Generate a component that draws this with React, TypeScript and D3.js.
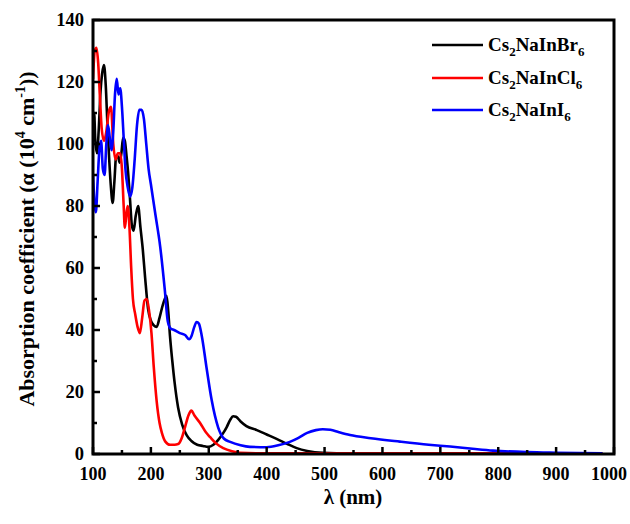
import React from "react";
import * as d3 from "d3";

// Wavelength (nm) / absorption coefficient (10^4 cm^-1) pairs per compound
const brWavelength = [100, 102, 104, 107, 110, 113, 116, 119, 122, 125, 128, 131, 134, 137, 140, 143, 146, 149, 152, 155, 158, 161, 164, 167, 170, 174, 178, 182, 186, 190, 195, 200, 205, 210, 215, 219, 224, 227, 230, 233, 237, 241, 247, 254, 262, 270, 280, 290, 299, 308, 316, 324, 331, 337, 342, 347, 355, 365, 383, 400, 418, 435, 452, 470, 497, 550, 700, 980];
const brAlpha = [102, 110, 101, 97, 105, 117, 123, 125.5, 119, 106, 95, 86, 81, 88, 96, 96, 94, 97, 102, 101, 96, 90, 82, 74, 72, 77, 80, 73, 66, 57, 47, 43, 41.5, 41, 44, 47, 50, 51, 46, 38, 30, 23, 15, 9.5, 6, 4.2, 3, 2.6, 2.3, 3, 4.5, 6.5, 8.7, 11, 12.2, 12, 10.5, 9, 7.7, 6.3, 4.8, 3.3, 1.9, 1, 0.4, 0.2, 0.1, 0.1];

const clWavelength = [100, 103, 106, 109, 112, 115, 119, 123, 127, 131, 135, 139, 143, 147, 150, 153, 155, 158, 160, 163, 166, 169, 173, 177, 181, 185, 189, 193, 197, 201, 205, 210, 215, 219, 225, 233, 241, 247, 253, 259, 265, 270, 275, 285, 295, 302, 312, 325, 340, 354, 400, 700, 980];
const clAlpha = [121, 130, 131, 126, 115, 105, 101, 104, 110, 112, 100, 95, 97, 97, 92, 80, 73, 78, 80, 73, 60, 50, 45, 41, 39, 44, 49.5, 50, 46, 39, 28, 17, 10, 6.8, 4, 3, 3, 3.2, 5, 8.7, 12.5, 14, 12.5, 10, 7, 5.5, 3.5, 1.9, 0.9, 0.4, 0.2, 0.2, 0.2];

const iWavelength = [100, 103, 105, 108, 111, 114, 117, 120, 123, 126, 129, 132, 135, 138, 141, 144, 147, 150, 153, 156, 160, 164, 168, 172, 176, 180, 184, 188, 192, 196, 200, 208, 216, 224, 229, 234, 240, 250, 259, 266, 270, 275, 279, 283, 288, 296, 305, 316, 326, 337, 355, 371, 400, 420, 440, 455, 470, 485, 497, 510, 525, 544, 580, 630, 680, 717, 760, 791, 850, 900, 980];
const iAlpha = [90, 80, 78, 88, 98, 101, 92, 90, 100, 106, 102, 98, 104, 116, 121, 116, 118, 112, 102, 92, 86, 83, 86, 95, 106, 111, 111, 108, 100, 92, 87, 77, 67, 53, 43, 40.5, 40, 39, 38.4, 37, 38, 41, 42.6, 42, 38, 28, 17.4, 8.7, 5, 3.9, 2.8, 2.3, 2.2, 2.8, 3.9, 5.2, 6.8, 7.7, 8, 7.8, 7, 6.1, 5.1, 4, 3, 2.4, 1.6, 1.1, 0.6, 0.4, 0.2];

const xTicks = [100, 200, 300, 400, 500, 600, 700, 800, 900, 1000];
const yTicks = [0, 20, 40, 60, 80, 100, 120, 140];

const seriesNames = ["Br", "Cl", "I"];
const seriesColors = ["#000000", "#ff0000", "#0000ff"];

const W = 630;
const H = 524;
const left = 93;
const right = 614;
const top = 20;
const bottom = 454;

export default function App() {
  const x = d3.scaleLinear().domain([100, 1000]).range([left, right]);
  const y = d3.scaleLinear().domain([0, 140]).range([bottom, top]);

  const line = d3
    .line<[number, number]>()
    .x((d) => x(d[0]))
    .y((d) => y(d[1]))
    .curve(d3.curveMonotoneX);

  const series: [number, number][][] = [
    brWavelength.map((w, i) => [w, brAlpha[i]]),
    clWavelength.map((w, i) => [w, clAlpha[i]]),
    iWavelength.map((w, i) => [w, iAlpha[i]]),
  ];

  const xMinor = d3.range(150, 1000, 100);
  const yMinor = d3.range(10, 140, 20);

  const font = "'Liberation Serif', 'Times New Roman', serif";
  const legendY = [45, 78, 110];

  return (
    <svg width={W} height={H} style={{ position: "absolute", left: 0, top: 0 }} fontFamily={font}>
      <rect width={W} height={H} fill="#fff" />
      <defs>
        <clipPath id="plotClip">
          <rect x={left} y={top} width={right - left} height={bottom - top} />
        </clipPath>
      </defs>

      <g clipPath="url(#plotClip)">
        {series.map((s, i) => (
          <path key={seriesNames[i]} d={line(s) ?? ""} fill="none" stroke={seriesColors[i]} strokeWidth={2.6} strokeLinejoin="round" />
        ))}
      </g>

      {/* ticks, pointing inward */}
      {xTicks.map((t) => (
        <line key={"xt" + t} x1={x(t)} x2={x(t)} y1={bottom} y2={bottom - 7} stroke="#000" strokeWidth={2.5} />
      ))}
      {xMinor.map((t) => (
        <line key={"xm" + t} x1={x(t)} x2={x(t)} y1={bottom} y2={bottom - 4} stroke="#000" strokeWidth={2.5} />
      ))}
      {yTicks.map((t) => (
        <line key={"yt" + t} x1={left} x2={left + 7} y1={y(t)} y2={y(t)} stroke="#000" strokeWidth={2.5} />
      ))}
      {yMinor.map((t) => (
        <line key={"ym" + t} x1={left} x2={left + 4} y1={y(t)} y2={y(t)} stroke="#000" strokeWidth={2.5} />
      ))}

      <rect x={left} y={top} width={right - left} height={bottom - top} fill="none" stroke="#000" strokeWidth={3} />

      {xTicks.map((t) => (
        <text key={"xl" + t} x={Math.min(x(t), 609)} y={480} textAnchor="middle" fontSize={18} fontWeight="bold">
          {t}
        </text>
      ))}
      {yTicks.map((t) => (
        <text key={"yl" + t} x={84} y={y(t) + 6} textAnchor="end" fontSize={18.5} fontWeight="bold">
          {t}
        </text>
      ))}

      <text x={353} y={504} textAnchor="middle" fontSize={21} fontWeight="bold">
        λ (nm)
      </text>

      <text transform={`translate(34, ${(top + bottom) / 2 + 2}) rotate(-90)`} textAnchor="middle" fontSize={22} fontWeight="bold">
        Absorption coefficient (α (10
        <tspan dy={-9} fontSize={14}>4</tspan>
        <tspan dy={9}> cm</tspan>
        <tspan dy={-9} fontSize={14}>-1</tspan>
        <tspan dy={9}>))</tspan>
      </text>

      {/* legend */}
      {seriesNames.map((n, i) => (
        <g key={"lg" + n}>
          <line x1={432} x2={483} y1={legendY[i]} y2={legendY[i]} stroke={seriesColors[i]} strokeWidth={2.6} />
          <text x={488} y={legendY[i] + 6} fontSize={19} fontWeight="bold">
            Cs
            <tspan dy={5} fontSize={13}>2</tspan>
            <tspan dy={-5}>NaIn{n}</tspan>
            <tspan dy={5} fontSize={13}>6</tspan>
          </text>
        </g>
      ))}
    </svg>
  );
}
